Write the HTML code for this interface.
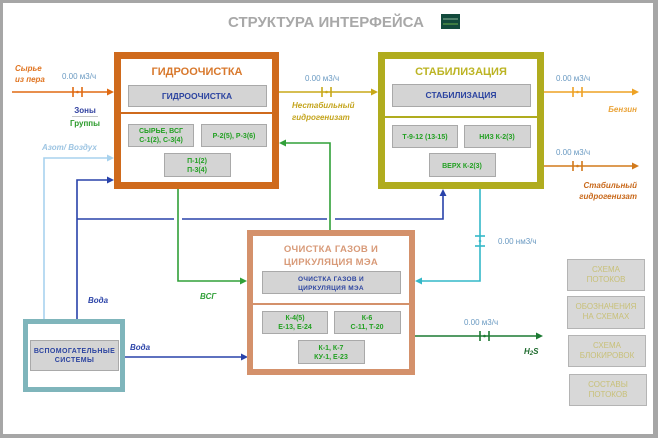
<!DOCTYPE html>
<html><head><meta charset="utf-8"><style>
html,body{margin:0;padding:0;background:#fff;}
svg{display:block;}
text{font-family:"Liberation Sans","DejaVu Sans",sans-serif;}
</style></head><body>
<svg width="658" height="438" viewBox="0 0 658 438" xmlns="http://www.w3.org/2000/svg">
<rect x="0" y="0" width="658" height="438" fill="#a6a6a6"/>
<rect x="3" y="3" width="650" height="431" fill="#ffffff"/>

<!-- title -->
<text x="326" y="27" text-anchor="middle" font-size="15" font-weight="bold" fill="#a8a8a8">СТРУКТУРА ИНТЕРФЕЙСА</text>
<rect x="441" y="14" width="19" height="15" fill="#124a3c"/>
<line x1="443" y1="19" x2="458" y2="19" stroke="#8fb89a" stroke-width="1"/>
<line x1="443" y1="24" x2="458" y2="24" stroke="#6ab04a" stroke-width="1"/>

<!-- ===== lines ===== -->
<line x1="12" y1="92" x2="109" y2="92" stroke="#e06a12" stroke-width="1.6"/>
<polygon points="114,92 107,88.5 107,95.5" fill="#e06a12"/>
<line x1="73" y1="87" x2="73" y2="97" stroke="#e06a12" stroke-width="1.6"/>
<line x1="82" y1="87" x2="82" y2="97" stroke="#e06a12" stroke-width="1.6"/>
<circle cx="77.5" cy="92" r="1.3" fill="#e06a12"/>

<line x1="279" y1="92" x2="373" y2="92" stroke="#c8a818" stroke-width="1.6"/>
<polygon points="378,92 371,88.5 371,95.5" fill="#c8a818"/>
<line x1="322" y1="87" x2="322" y2="97" stroke="#c8a818" stroke-width="1.6"/>
<line x1="331" y1="87" x2="331" y2="97" stroke="#c8a818" stroke-width="1.6"/>
<circle cx="326.5" cy="92" r="1.3" fill="#c8a818"/>

<line x1="544" y1="92" x2="633" y2="92" stroke="#eea224" stroke-width="1.6"/>
<polygon points="639,92 632,88.5 632,95.5" fill="#eea224"/>
<line x1="573" y1="87" x2="573" y2="97" stroke="#eea224" stroke-width="1.6"/>
<line x1="582" y1="87" x2="582" y2="97" stroke="#eea224" stroke-width="1.6"/>
<circle cx="577.5" cy="92" r="1.3" fill="#eea224"/>

<line x1="544" y1="166" x2="633" y2="166" stroke="#d27a1c" stroke-width="1.6"/>
<polygon points="639,166 632,162.5 632,169.5" fill="#d27a1c"/>
<line x1="573" y1="161" x2="573" y2="171" stroke="#d27a1c" stroke-width="1.6"/>
<line x1="582" y1="161" x2="582" y2="171" stroke="#d27a1c" stroke-width="1.6"/>
<circle cx="577.5" cy="166" r="1.3" fill="#d27a1c"/>

<polyline points="44,320 44,158 109,158" fill="none" stroke="#a8d2ee" stroke-width="1.6"/>
<polygon points="114,158 107,154.5 107,161.5" fill="#a8d2ee"/>

<polyline points="77,319 77,180 109,180" fill="none" stroke="#2842aa" stroke-width="1.6"/>
<polygon points="114,180 107,176.5 107,183.5" fill="#2842aa"/>
<line x1="77" y1="219" x2="174" y2="219" stroke="#2842aa" stroke-width="1.6"/>
<line x1="182" y1="219" x2="327" y2="219" stroke="#2842aa" stroke-width="1.6"/>
<polyline points="335,219 443,219 443,195" fill="none" stroke="#2842aa" stroke-width="1.6"/>
<polygon points="443,189 439.5,196 446.5,196" fill="#2842aa"/>
<line x1="125" y1="357" x2="242" y2="357" stroke="#2842aa" stroke-width="1.6"/>
<polygon points="248,357 241,353.5 241,360.5" fill="#2842aa"/>

<polyline points="178,189 178,281 241,281" fill="none" stroke="#30a038" stroke-width="1.6"/>
<polygon points="247,281 240,277.5 240,284.5" fill="#30a038"/>
<polyline points="330,230 330,143 285,143" fill="none" stroke="#30a038" stroke-width="1.6"/>
<polygon points="279,143 286,139.5 286,146.5" fill="#30a038"/>

<polyline points="480,189 480,281 421,281" fill="none" stroke="#34b8c8" stroke-width="1.6"/>
<polygon points="415,281 422,277.5 422,284.5" fill="#34b8c8"/>
<line x1="475" y1="236" x2="485" y2="236" stroke="#34b8c8" stroke-width="1.6"/>
<line x1="475" y1="246" x2="485" y2="246" stroke="#34b8c8" stroke-width="1.6"/>
<circle cx="480" cy="241" r="1.3" fill="#34b8c8"/>

<line x1="415" y1="336" x2="537" y2="336" stroke="#1c7a32" stroke-width="1.6"/>
<polygon points="543,336 536,332.5 536,339.5" fill="#1c7a32"/>
<line x1="480" y1="331" x2="480" y2="341" stroke="#1c7a32" stroke-width="1.6"/>
<line x1="489" y1="331" x2="489" y2="341" stroke="#1c7a32" stroke-width="1.6"/>
<circle cx="484.5" cy="336" r="1.3" fill="#1c7a32"/>

<!-- ===== ГИДРООЧИСТКА ===== -->
<rect x="117.5" y="55.5" width="158" height="130" fill="#fff" stroke="#cf6a1c" stroke-width="7"/>
<line x1="121" y1="113" x2="272" y2="113" stroke="#cf6a1c" stroke-width="2"/>
<text x="197" y="75" text-anchor="middle" font-size="11" font-weight="bold" fill="#d8782c">ГИДРООЧИСТКА</text>
<rect x="128.5" y="85.5" width="138" height="21" fill="#d4d4d4" stroke="#a9a9a9"/>
<text x="197" y="99" text-anchor="middle" font-size="8.5" font-weight="bold" fill="#2c44a0">ГИДРООЧИСТКА</text>
<rect x="128.5" y="124.5" width="65" height="22" fill="#d4d4d4" stroke="#a9a9a9"/>
<text x="161" y="133" text-anchor="middle" font-size="7" font-weight="bold" fill="#22a022">СЫРЬЕ, ВСГ</text>
<text x="161" y="142" text-anchor="middle" font-size="7" font-weight="bold" fill="#22a022">С-1(2), С-3(4)</text>
<rect x="201.5" y="124.5" width="65" height="22" fill="#d4d4d4" stroke="#a9a9a9"/>
<text x="234" y="138" text-anchor="middle" font-size="7" font-weight="bold" fill="#22a022">Р-2(5), Р-3(6)</text>
<rect x="164.5" y="153.5" width="66" height="23" fill="#d4d4d4" stroke="#a9a9a9"/>
<text x="197" y="163" text-anchor="middle" font-size="7" font-weight="bold" fill="#22a022">П-1(2)</text>
<text x="197" y="172" text-anchor="middle" font-size="7" font-weight="bold" fill="#22a022">П-3(4)</text>

<!-- ===== СТАБИЛИЗАЦИЯ ===== -->
<rect x="381.5" y="55.5" width="159" height="130" fill="#fff" stroke="#b0ac1e" stroke-width="7"/>
<line x1="385" y1="117" x2="537" y2="117" stroke="#b0ac1e" stroke-width="2"/>
<text x="461" y="75" text-anchor="middle" font-size="11" font-weight="bold" fill="#bcb424">СТАБИЛИЗАЦИЯ</text>
<rect x="392.5" y="84.5" width="138" height="22" fill="#d4d4d4" stroke="#a9a9a9"/>
<text x="461" y="98" text-anchor="middle" font-size="8.5" font-weight="bold" fill="#2c44a0">СТАБИЛИЗАЦИЯ</text>
<rect x="392.5" y="125.5" width="65" height="22" fill="#d4d4d4" stroke="#a9a9a9"/>
<text x="425" y="139" text-anchor="middle" font-size="7" font-weight="bold" fill="#22a022">Т-9-12  (13-15)</text>
<rect x="464.5" y="125.5" width="66" height="22" fill="#d4d4d4" stroke="#a9a9a9"/>
<text x="497" y="139" text-anchor="middle" font-size="7" font-weight="bold" fill="#22a022">НИЗ К-2(3)</text>
<rect x="429.5" y="153.5" width="66" height="23" fill="#d4d4d4" stroke="#a9a9a9"/>
<text x="462" y="168" text-anchor="middle" font-size="7" font-weight="bold" fill="#22a022">ВЕРХ К-2(3)</text>

<!-- ===== ОЧИСТКА ГАЗОВ ===== -->
<rect x="250" y="233" width="162" height="139" fill="#fff" stroke="#d4916b" stroke-width="6"/>
<line x1="253" y1="304" x2="409" y2="304" stroke="#d4916b" stroke-width="2"/>
<text x="331" y="252" text-anchor="middle" font-size="9.5" font-weight="bold" fill="#d89a78" letter-spacing="0.3">ОЧИСТКА  ГАЗОВ  И</text>
<text x="331" y="265" text-anchor="middle" font-size="9.5" font-weight="bold" fill="#d89a78" letter-spacing="0.3">ЦИРКУЛЯЦИЯ  МЭА</text>
<rect x="262.5" y="271.5" width="138" height="22" fill="#d4d4d4" stroke="#a9a9a9"/>
<text x="331" y="281" text-anchor="middle" font-size="6.5" font-weight="bold" fill="#2c44a0" letter-spacing="0.3">ОЧИСТКА ГАЗОВ И</text>
<text x="331" y="290" text-anchor="middle" font-size="6.5" font-weight="bold" fill="#2c44a0" letter-spacing="0.3">ЦИРКУЛЯЦИЯ МЭА</text>
<rect x="262.5" y="311.5" width="65" height="22" fill="#d4d4d4" stroke="#a9a9a9"/>
<text x="295" y="320" text-anchor="middle" font-size="7" font-weight="bold" fill="#22a022">К-4(5)</text>
<text x="295" y="329" text-anchor="middle" font-size="7" font-weight="bold" fill="#22a022">Е-13, Е-24</text>
<rect x="334.5" y="311.5" width="66" height="22" fill="#d4d4d4" stroke="#a9a9a9"/>
<text x="367" y="320" text-anchor="middle" font-size="7" font-weight="bold" fill="#22a022">К-6</text>
<text x="367" y="329" text-anchor="middle" font-size="7" font-weight="bold" fill="#22a022">С-11, Т-20</text>
<rect x="298.5" y="340.5" width="66" height="23" fill="#d4d4d4" stroke="#a9a9a9"/>
<text x="331" y="350" text-anchor="middle" font-size="7" font-weight="bold" fill="#22a022">К-1, К-7</text>
<text x="331" y="359" text-anchor="middle" font-size="7" font-weight="bold" fill="#22a022">КУ-1, Е-23</text>

<!-- ===== ВСПОМОГАТЕЛЬНЫЕ ===== -->
<rect x="25.5" y="321.5" width="97" height="68" fill="#fff" stroke="#7fb5bb" stroke-width="5"/>
<rect x="30.5" y="340.5" width="88" height="30" fill="#d4d4d4" stroke="#a9a9a9"/>
<text x="74.5" y="353" text-anchor="middle" font-size="7" font-weight="bold" fill="#2c44a0" letter-spacing="0.4">ВСПОМОГАТЕЛЬНЫЕ</text>
<text x="74.5" y="362" text-anchor="middle" font-size="7" font-weight="bold" fill="#2c44a0" letter-spacing="0.4">СИСТЕМЫ</text>

<!-- ===== labels ===== -->
<text x="15" y="71" font-size="8" font-style="italic" font-weight="bold" fill="#e07420">Сырье</text>
<text x="15" y="82" font-size="8" font-style="italic" font-weight="bold" fill="#e07420">из пера</text>
<text x="62" y="79" font-size="8" fill="#6a9ac2">0.00 м3/ч</text>
<text x="85" y="113" text-anchor="middle" font-size="8" font-weight="bold" fill="#3040a0">Зоны</text>
<line x1="72" y1="116.5" x2="98" y2="116.5" stroke="#c8c8c8" stroke-width="1"/>
<text x="85" y="126" text-anchor="middle" font-size="8" font-weight="bold" fill="#2a9a2a">Группы</text>
<text x="42" y="150" font-size="8" font-style="italic" font-weight="bold" fill="#9cc4e2">Азот/ Воздух</text>

<text x="305" y="81" font-size="8" fill="#6a9ac2">0.00  м3/ч</text>
<text x="292" y="108" font-size="8" font-style="italic" font-weight="bold" fill="#c4a41c">Нестабильный</text>
<text x="292" y="120" font-size="8" font-style="italic" font-weight="bold" fill="#c4a41c">гидрогенизат</text>

<text x="556" y="81" font-size="8" fill="#6a9ac2">0.00  м3/ч</text>
<text x="637" y="112" text-anchor="end" font-size="8" font-style="italic" font-weight="bold" fill="#eaa43a">Бензин</text>
<text x="556" y="155" font-size="8" fill="#6a9ac2">0.00  м3/ч</text>
<text x="637" y="188" text-anchor="end" font-size="8" font-style="italic" font-weight="bold" fill="#c8681a">Стабильный</text>
<text x="637" y="199" text-anchor="end" font-size="8" font-style="italic" font-weight="bold" fill="#c8681a">гидрогенизат</text>

<text x="498" y="244" font-size="8" fill="#6a9ac2">0.00  нм3/ч</text>
<text x="88" y="303" font-size="8" font-style="italic" font-weight="bold" fill="#2c44a8">Вода</text>
<text x="130" y="350" font-size="8" font-style="italic" font-weight="bold" fill="#2c44a8">Вода</text>
<text x="200" y="299" font-size="8" font-style="italic" font-weight="bold" fill="#30a038">ВСГ</text>
<text x="464" y="325" font-size="8" fill="#6a9ac2">0.00  м3/ч</text>
<text x="524" y="354" font-size="8" font-style="italic" font-weight="bold" fill="#1c6a2c">H<tspan font-size="6" dy="1">2</tspan><tspan dy="-1">S</tspan></text>

<!-- ===== right buttons ===== -->
<rect x="567.5" y="259.5" width="77" height="31" fill="#d8d8d8" stroke="#b4b4b4"/>
<text x="606" y="272" text-anchor="middle" font-size="8" fill="#c8c078">СХЕМА</text>
<text x="606" y="282" text-anchor="middle" font-size="8" fill="#c8c078">ПОТОКОВ</text>
<rect x="567.5" y="296.5" width="77" height="32" fill="#d8d8d8" stroke="#b4b4b4"/>
<text x="606" y="309" text-anchor="middle" font-size="8" fill="#c8c078">ОБОЗНАЧЕНИЯ</text>
<text x="606" y="319" text-anchor="middle" font-size="8" fill="#c8c078">НА СХЕМАХ</text>
<rect x="568.5" y="335.5" width="77" height="31" fill="#d8d8d8" stroke="#b4b4b4"/>
<text x="607" y="348" text-anchor="middle" font-size="8" fill="#c8c078">СХЕМА</text>
<text x="607" y="358" text-anchor="middle" font-size="8" fill="#c8c078">БЛОКИРОВОК</text>
<rect x="569.5" y="374.5" width="77" height="31" fill="#d8d8d8" stroke="#b4b4b4"/>
<text x="608" y="387" text-anchor="middle" font-size="8" fill="#c8c078">СОСТАВЫ</text>
<text x="608" y="397" text-anchor="middle" font-size="8" fill="#c8c078">ПОТОКОВ</text>
</svg>
</body></html>
